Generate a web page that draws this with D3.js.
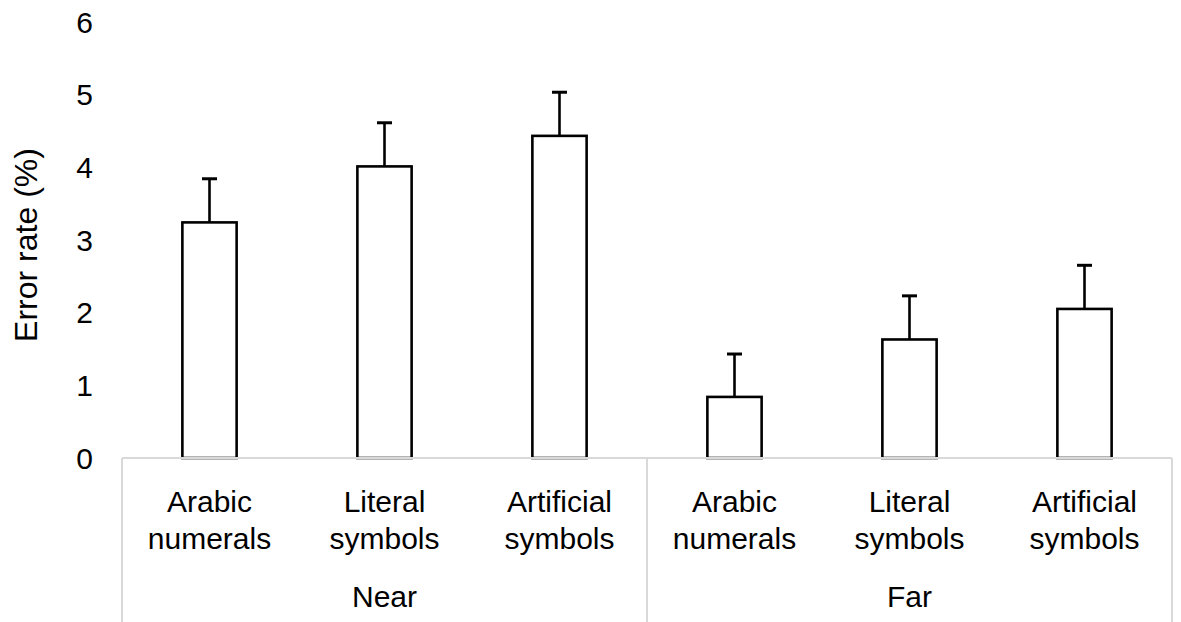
<!DOCTYPE html>
<html>
<head>
<meta charset="utf-8">
<script src="https://cdn.jsdelivr.net/npm/d3@7"></script>
<style>
  html, body { margin: 0; padding: 0; background: #fff; }
  svg { display: block; font-family: Arial, "Liberation Sans", sans-serif; }
</style>
</head>
<body>
<svg id="chart" width="1181" height="622"></svg>
<script>
// ---- data ----
const groups = ["Near", "Far"];
const categories = ["Arabic numerals", "Literal symbols", "Artificial symbols"];
const categoryLines = [["Arabic", "numerals"], ["Literal", "symbols"], ["Artificial", "symbols"]];
const nearValues = [3.24, 4.01, 4.43];
const nearErrors = [0.60, 0.60, 0.60];
const farValues = [0.84, 1.63, 2.05];
const farErrors = [0.59, 0.60, 0.60];
const yTicks = [0, 1, 2, 3, 4, 5, 6];
const yTitle = "Error rate (%)";

// build rows
const rows = [];
groups.forEach((g, gi) => {
  const vals = gi === 0 ? nearValues : farValues;
  const errs = gi === 0 ? nearErrors : farErrors;
  categories.forEach((c, ci) => {
    rows.push({ key: g + "|" + c, group: g, gi, ci, value: vals[ci], err: errs[ci] });
  });
});

const svg = d3.select("#chart");
const left = 122, right = 1172, baseY = 458, topY = 21.7, bottom = 622;

const x = d3.scaleBand()
  .domain(rows.map(d => d.key))
  .range([left, right])
  .paddingInner(0.69)
  .paddingOuter(0.345);

const y = d3.scaleLinear().domain([0, 6]).range([baseY, topY]);

const gray = "#d9d9d9";

// bars
svg.append("g").selectAll("rect")
  .data(rows)
  .join("rect")
  .attr("x", d => x(d.key))
  .attr("y", d => y(d.value))
  .attr("width", x.bandwidth())
  .attr("height", d => y(0) - y(d.value))
  .attr("fill", "#fff")
  .attr("stroke", "#000")
  .attr("stroke-width", 2.6);

// error bars
const eb = svg.append("g").attr("stroke", "#000").attr("stroke-width", 2.6);
eb.selectAll("line.v")
  .data(rows)
  .join("line")
  .attr("class", "v")
  .attr("x1", d => x(d.key) + x.bandwidth() / 2)
  .attr("x2", d => x(d.key) + x.bandwidth() / 2)
  .attr("y1", d => y(d.value))
  .attr("y2", d => y(d.value + d.err));
eb.selectAll("line.c")
  .data(rows)
  .join("line")
  .attr("class", "c")
  .attr("x1", d => x(d.key) + x.bandwidth() / 2 - 7.5)
  .attr("x2", d => x(d.key) + x.bandwidth() / 2 + 7.5)
  .attr("y1", d => y(d.value + d.err))
  .attr("y2", d => y(d.value + d.err))
  .attr("stroke-width", 3);

// category axis lines (gray)
const ax = svg.append("g").attr("stroke", gray).attr("stroke-width", 2).attr("fill", "none");
ax.append("line").attr("x1", left).attr("x2", right).attr("y1", y(0)).attr("y2", y(0));
const step = x.step();
const boundaries = [left, left + step * categories.length, right];
ax.selectAll("line.b")
  .data(boundaries)
  .join("line")
  .attr("class", "b")
  .attr("x1", d => d).attr("x2", d => d)
  .attr("y1", y(0)).attr("y2", bottom);

// y tick labels
svg.append("g").selectAll("text")
  .data(yTicks)
  .join("text")
  .attr("x", 93)
  .attr("y", d => y(d))
  .attr("dy", "0.36em")
  .attr("text-anchor", "end")
  .attr("font-size", 30)
  .attr("fill", "#000")
  .text(d => d);

// y title
svg.append("text")
  .attr("transform", "translate(37,245) rotate(-90)")
  .attr("text-anchor", "middle")
  .attr("font-size", 32)
  .attr("fill", "#000")
  .text(yTitle);

// category labels
const catG = svg.append("g");
rows.forEach(d => {
  const cx = x(d.key) + x.bandwidth() / 2;
  const t = catG.append("text")
    .attr("text-anchor", "middle")
    .attr("font-size", 30)
    .attr("fill", "#000");
  categoryLines[d.ci].forEach((ln, i) => {
    t.append("tspan").attr("x", cx).attr("y", 512 + i * 36.5).text(ln);
  });
});

// group labels
svg.append("g").selectAll("text")
  .data(groups)
  .join("text")
  .attr("x", (d, i) => (boundaries[i] + boundaries[i + 1]) / 2)
  .attr("y", 607)
  .attr("text-anchor", "middle")
  .attr("font-size", 30)
  .attr("fill", "#000")
  .text(d => d);
</script>
</body>
</html>
